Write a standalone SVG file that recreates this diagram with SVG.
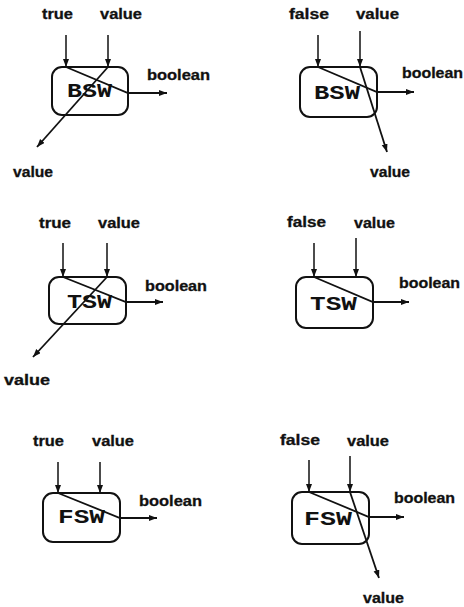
<svg xmlns="http://www.w3.org/2000/svg" width="464" height="607" viewBox="0 0 464 607">
<style>
.lbl{font-family:"Liberation Sans",Arial,sans-serif;font-weight:bold;font-size:14px;fill:#111;stroke:#111;stroke-width:0.3}
.nm{font-family:"Liberation Mono","Courier New",monospace;font-weight:bold;font-size:20px;fill:#111}
.box{fill:none;stroke:#111;stroke-width:2}
.in{fill:none;stroke:#111;stroke-width:1.5}
.dg{fill:none;stroke:#111;stroke-width:1.8}
</style>
<defs>
<marker id="ah" markerUnits="userSpaceOnUse" markerWidth="9" markerHeight="7" refX="8" refY="3" orient="auto">
<path d="M0,0 L8,3 L0,6 z" fill="#111"/>
</marker>
</defs>
<rect width="464" height="607" fill="#fff"/>

<g id="bsw-true">
<rect class="box" x="52" y="67" width="76" height="48" rx="10"/>
<text class="nm" x="67" y="97" textLength="45" lengthAdjust="spacingAndGlyphs">BSW</text>
<text class="lbl" x="42" y="19" textLength="31" lengthAdjust="spacingAndGlyphs">true</text>
<text class="lbl" x="100" y="19" textLength="42" lengthAdjust="spacingAndGlyphs">value</text>
<text class="lbl" x="147" y="80" textLength="63" lengthAdjust="spacingAndGlyphs">boolean</text>
<text class="lbl" x="13" y="177" textLength="40" lengthAdjust="spacingAndGlyphs">value</text>
</g>
<g id="bsw-false">
<rect class="box" x="300" y="67" width="77" height="50" rx="10"/>
<text class="nm" x="314" y="99" textLength="46" lengthAdjust="spacingAndGlyphs">BSW</text>
<text class="lbl" x="289" y="19" textLength="40" lengthAdjust="spacingAndGlyphs">false</text>
<text class="lbl" x="356" y="19" textLength="43" lengthAdjust="spacingAndGlyphs">value</text>
<text class="lbl" x="402" y="78" textLength="61" lengthAdjust="spacingAndGlyphs">boolean</text>
<text class="lbl" x="370" y="177" textLength="40" lengthAdjust="spacingAndGlyphs">value</text>
</g>
<g id="tsw-true">
<rect class="box" x="49" y="277" width="77" height="47" rx="10"/>
<text class="nm" x="67" y="308" textLength="45" lengthAdjust="spacingAndGlyphs">TSW</text>
<text class="lbl" x="39" y="228" textLength="32" lengthAdjust="spacingAndGlyphs">true</text>
<text class="lbl" x="98" y="228" textLength="42" lengthAdjust="spacingAndGlyphs">value</text>
<text class="lbl" x="145" y="291" textLength="62" lengthAdjust="spacingAndGlyphs">boolean</text>
<text class="lbl" x="4" y="385" textLength="46" lengthAdjust="spacingAndGlyphs">value</text>
</g>
<g id="tsw-false">
<rect class="box" x="296" y="277" width="77" height="51" rx="10"/>
<text class="nm" x="310" y="310" textLength="47" lengthAdjust="spacingAndGlyphs">TSW</text>
<text class="lbl" x="287" y="227" textLength="39" lengthAdjust="spacingAndGlyphs">false</text>
<text class="lbl" x="354" y="228" textLength="41" lengthAdjust="spacingAndGlyphs">value</text>
<text class="lbl" x="399" y="288" textLength="61" lengthAdjust="spacingAndGlyphs">boolean</text>
</g>
<g id="fsw-true">
<rect class="box" x="43" y="493" width="77" height="49" rx="10"/>
<text class="nm" x="58" y="523" textLength="47" lengthAdjust="spacingAndGlyphs">FSW</text>
<text class="lbl" x="33" y="446" textLength="31" lengthAdjust="spacingAndGlyphs">true</text>
<text class="lbl" x="92" y="446" textLength="42" lengthAdjust="spacingAndGlyphs">value</text>
<text class="lbl" x="139" y="506" textLength="63" lengthAdjust="spacingAndGlyphs">boolean</text>
</g>
<g id="fsw-false">
<rect class="box" x="292" y="492" width="77" height="52" rx="10"/>
<text class="nm" x="304" y="525" textLength="48" lengthAdjust="spacingAndGlyphs">FSW</text>
<text class="lbl" x="280" y="445" textLength="40" lengthAdjust="spacingAndGlyphs">false</text>
<text class="lbl" x="347" y="446" textLength="42" lengthAdjust="spacingAndGlyphs">value</text>
<text class="lbl" x="394" y="503" textLength="61" lengthAdjust="spacingAndGlyphs">boolean</text>
<text class="lbl" x="363" y="603" textLength="41" lengthAdjust="spacingAndGlyphs">value</text>
</g>

<g id="connectors">
<line class="in" x1="66" y1="35" x2="66" y2="67" marker-end="url(#ah)"/>
<line class="in" x1="108" y1="35" x2="108" y2="67" marker-end="url(#ah)"/>
<polyline class="dg" points="66,67 128,93 167,93" marker-end="url(#ah)"/>
<line class="dg" x1="108" y1="67" x2="37" y2="147" marker-end="url(#ah)"/>

<line class="in" x1="318" y1="35" x2="318" y2="67" marker-end="url(#ah)"/>
<line class="in" x1="360" y1="31" x2="360" y2="67" marker-end="url(#ah)"/>
<polyline class="dg" points="318,67 377,92 414,92" marker-end="url(#ah)"/>
<line class="dg" x1="360" y1="67" x2="387" y2="152" marker-end="url(#ah)"/>

<line class="in" x1="63" y1="243" x2="63" y2="277" marker-end="url(#ah)"/>
<line class="in" x1="107" y1="243" x2="107" y2="277" marker-end="url(#ah)"/>
<polyline class="dg" points="63,277 126,302 163,302" marker-end="url(#ah)"/>
<line class="dg" x1="107" y1="277" x2="33" y2="357" marker-end="url(#ah)"/>

<line class="in" x1="314" y1="243" x2="314" y2="277" marker-end="url(#ah)"/>
<line class="in" x1="356" y1="238" x2="356" y2="277" marker-end="url(#ah)"/>
<polyline class="dg" points="314,277 373,302 409,302" marker-end="url(#ah)"/>

<line class="in" x1="58" y1="462" x2="58" y2="493" marker-end="url(#ah)"/>
<line class="in" x1="100" y1="462" x2="100" y2="493" marker-end="url(#ah)"/>
<polyline class="dg" points="58,493 120,518 157,518" marker-end="url(#ah)"/>

<line class="in" x1="309" y1="460" x2="309" y2="492" marker-end="url(#ah)"/>
<line class="in" x1="350" y1="456" x2="350" y2="492" marker-end="url(#ah)"/>
<polyline class="dg" points="309,492 369,517 404,517" marker-end="url(#ah)"/>
<line class="dg" x1="350" y1="492" x2="379" y2="578" marker-end="url(#ah)"/>
</g>
</svg>
